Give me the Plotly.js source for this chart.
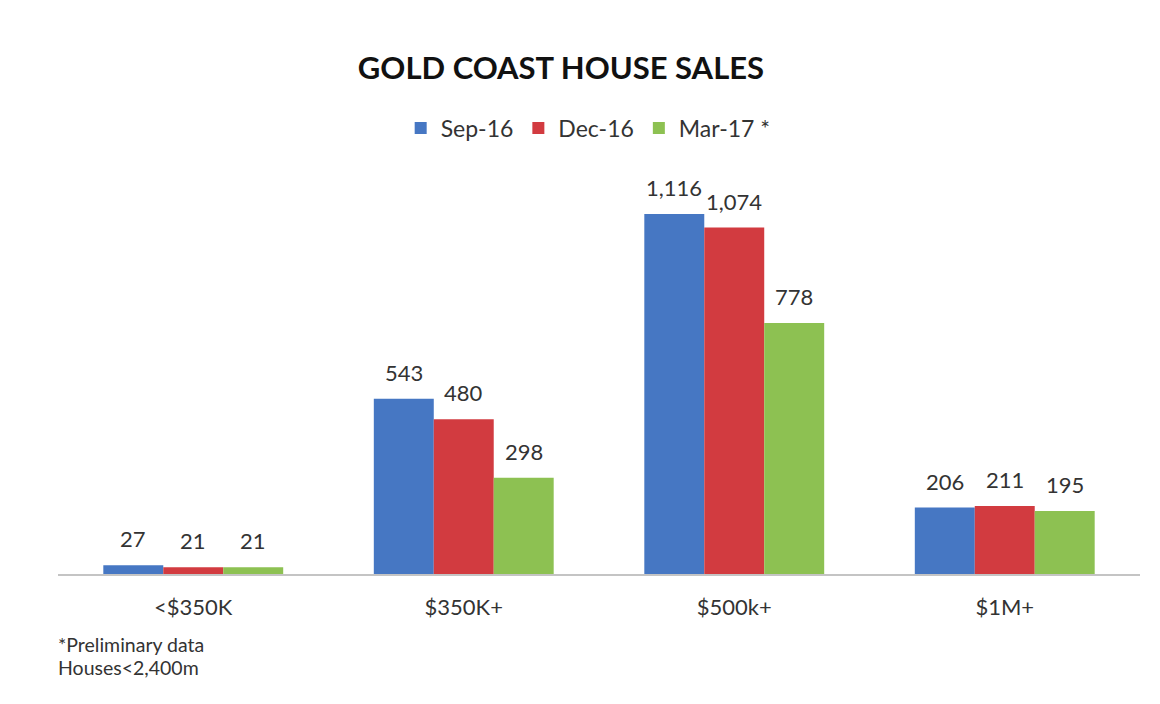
<!DOCTYPE html>
<html>
<head>
<meta charset="utf-8">
<script src="https://cdn.plot.ly/plotly-3.0.1.min.js"></script>
<style>html,body{margin:0;padding:0;background:#fff;}#chart{width:1160px;height:704px;}</style>
</head>
<body>
<div id="chart"></div>
<script>
const categories = ["<$350K", "$350K+", "$500k+", "$1M+"];
const seriesNames = ["Sep-16", "Dec-16", "Mar-17 *"];
const sep16 = [27, 543, 1116, 206];
const dec16 = [21, 480, 1074, 211];
const mar17 = [21, 298, 778, 195];
const footnotes = ["*Preliminary data", "Houses<2,400m"];

const colors = ["#4677c3", "#d23b40", "#8dc152"];
const allSeries = [sep16, dec16, mar17];
const FONT = "Lato, 'Open Sans', sans-serif";

const traces = allSeries.map((vals, k) => ({
  type: "bar",
  name: seriesNames[k],
  x: categories,
  y: vals,
  marker: {color: colors[k]},
  hoverinfo: "x+y+name"
}));

const bargap = 0.335;
const barW = (1 - bargap) / 3;
const annotations = [];
allSeries.forEach((vals, k) => {
  vals.forEach((v, i) => {
    annotations.push({
      xref: "x", yref: "y",
      x: i + (k - 1) * barW,
      y: v,
      yanchor: "bottom",
      yshift: 11,
      text: v.toLocaleString("en-US"),
      showarrow: false,
      font: {family: FONT, size: 22, color: "#333333"}
    });
  });
});
footnotes.forEach((t, j) => {
  annotations.push({
    xref: "paper", yref: "paper",
    x: -0.002, y: -0.17 - j * 0.057,
    xanchor: "left", yanchor: "middle",
    text: t, showarrow: false,
    font: {family: FONT, size: 19.5, color: "#333333"}
  });
});

const layout = {
  width: 1160, height: 704,
  paper_bgcolor: "#ffffff", plot_bgcolor: "#ffffff",
  margin: {l: 58, r: 20, t: 160, b: 130},
  barmode: "group",
  bargap: bargap,
  bargroupgap: 0,
  font: {family: FONT, color: "#333333"},
  title: {
    text: "<b>GOLD COAST HOUSE SALES</b>",
    font: {family: FONT, size: 31, color: "#111111"},
    xref: "container", yref: "container",
    x: 0.4836, xanchor: "center",
    y: 0.903, yanchor: "middle"
  },
  showlegend: true,
  legend: {
    orientation: "h",
    xref: "paper", yref: "paper",
    x: 0.49, xanchor: "center",
    y: 1.077, yanchor: "middle",
    font: {family: FONT, size: 23, color: "#333333"},
    itemwidth: 30,
    traceorder: "normal"
  },
  xaxis: {
    type: "category",
    showline: true, linecolor: "#c4c4c4", linewidth: 2,
    ticks: "", showgrid: false, zeroline: false,
    tickfont: {family: FONT, size: 22, color: "#333333"},
    ticklabelstandoff: 13
  },
  yaxis: {
    range: [0, 1283.4],
    showgrid: false, zeroline: false, showticklabels: false,
    ticks: "", showline: false
  },
  annotations: annotations
};

Plotly.newPlot("chart", traces, layout, {displayModeBar: false, staticPlot: true});
</script>
</body>
</html>
